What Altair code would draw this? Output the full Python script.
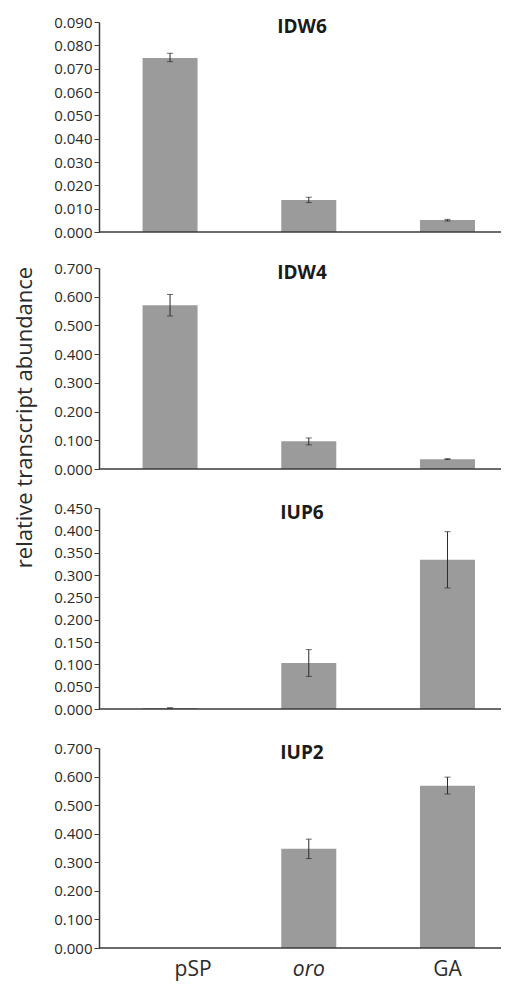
import altair as alt
import pandas as pd

categories = ["pSP", "oro", "GA"]
genes = ["IDW6", "IDW4", "IUP6", "IUP2"]

idw6_mean = [0.0746, 0.0137, 0.0051]
idw6_low = [0.0730, 0.0126, 0.0047]
idw6_high = [0.0766, 0.0149, 0.0054]

idw4_mean = [0.570, 0.097, 0.034]
idw4_low = [0.533, 0.084, 0.033]
idw4_high = [0.608, 0.108, 0.036]

iup6_mean = [0.002, 0.103, 0.334]
iup6_low = [0.001, 0.073, 0.271]
iup6_high = [0.003, 0.133, 0.397]

iup2_mean = [0.0, 0.347, 0.568]
iup2_low = [None, 0.313, 0.539]
iup2_high = [None, 0.381, 0.598]

y_max = [0.09, 0.7, 0.45, 0.7]
y_ticks = [
    [0.00, 0.01, 0.02, 0.03, 0.04, 0.05, 0.06, 0.07, 0.08, 0.09],
    [0.0, 0.1, 0.2, 0.3, 0.4, 0.5, 0.6, 0.7],
    [0.00, 0.05, 0.10, 0.15, 0.20, 0.25, 0.30, 0.35, 0.40, 0.45],
    [0.0, 0.1, 0.2, 0.3, 0.4, 0.5, 0.6, 0.7],
]
means = [idw6_mean, idw4_mean, iup6_mean, iup2_mean]
lows = [idw6_low, idw4_low, iup6_low, iup2_low]
highs = [idw6_high, idw4_high, iup6_high, iup2_high]

y_title = "relative transcript abundance"

FONT = "Open Sans"
BAR = "#9b9b9b"
INK = "#2b2b2b"
AXIS = "#3a3a3a"
W = 402
HEIGHTS = [210, 201, 201, 200]


def panel(i):
    df = pd.DataFrame({"cond": categories, "mean": means[i],
                       "low": lows[i], "high": highs[i]})
    last = i == 3
    title_txt = y_title if i == 1 else None
    xscale = alt.Scale(domain=categories, paddingInner=0.5,
                       paddingOuter=0.199, align=0.659)
    xaxis = alt.Axis(
        title=None, domain=False, ticks=False, tickSize=0, labels=last,
        labelAngle=0, labelFont=FONT, labelFontSize=21, labelColor=INK,
        labelPadding=10,
        labelFontStyle={"condition": {"test": "datum.value == 'oro'", "value": "italic"}, "value": "normal"},
        labelOffset={"condition": {"test": "datum.value == 'pSP'", "value": 23}, "value": 0},
    )
    x = alt.X("cond:N", sort=categories, scale=xscale, axis=xaxis)
    yscale = alt.Scale(domain=[0, y_max[i]], nice=False, zero=True)
    axis_kw = dict(
        values=y_ticks[i], format=".3f", grid=False, tickSize=5,
        tickColor=AXIS, domainColor=AXIS, domainWidth=1.5, labelOverlap=False,
        labelFont=FONT, labelFontSize=15, labelColor=INK, labelPadding=2,
    )
    if title_txt:
        axis_kw.update(title=title_txt, titleX=-75, titleY=149, titleAngle=270,
                       titleAlign="center", titleBaseline="middle",
                       titleFont=FONT, titleFontSize=22, titleFontWeight="normal",
                       titleColor=INK)
    else:
        axis_kw.update(title=None)
    yaxis = alt.Axis(**axis_kw)

    def Y(field):
        return alt.Y(field, scale=yscale, axis=yaxis)

    base = alt.Chart(df)
    bars = base.mark_bar(size=55, color=BAR).encode(x=x, y=Y("mean:Q"))
    rule = base.mark_rule(color=INK, strokeWidth=1).encode(
        x=x, y=Y("low:Q"), y2="high:Q")
    cap_lo = base.mark_tick(color=INK, thickness=1, size=6).encode(
        x=x, y=Y("low:Q"))
    cap_hi = base.mark_tick(color=INK, thickness=1, size=6).encode(
        x=x, y=Y("high:Q"))
    baseline = alt.Chart(pd.DataFrame({"v": [0]})).mark_rule(
        color=AXIS, strokeWidth=1.5).encode(
        x=alt.value(0), x2=alt.value(W), y=Y("v:Q"))
    label = alt.Chart(pd.DataFrame({"gene": [genes[i]]})).mark_text(
        font=FONT, fontSize=19, fontWeight="bold", color="#1a1a1a",
        align="center", baseline="alphabetic").encode(
        x=alt.value(203), y=alt.value(11), text="gene:N")
    return alt.layer(bars, rule, cap_lo, cap_hi, baseline, label).properties(
        width=W, height=HEIGHTS[i])


p = [panel(i) for i in range(4)]
lower = alt.vconcat(p[1], p[2], p[3], spacing=39, bounds="flush")
chart = alt.vconcat(p[0], lower, spacing=36, bounds="flush").properties(
    padding={"left": 5, "top": 7, "right": 0, "bottom": 3}
).configure(background="white").configure_view(stroke=None)

chart.save("out.html", embed_options={"renderer": "svg", "actions": False})
